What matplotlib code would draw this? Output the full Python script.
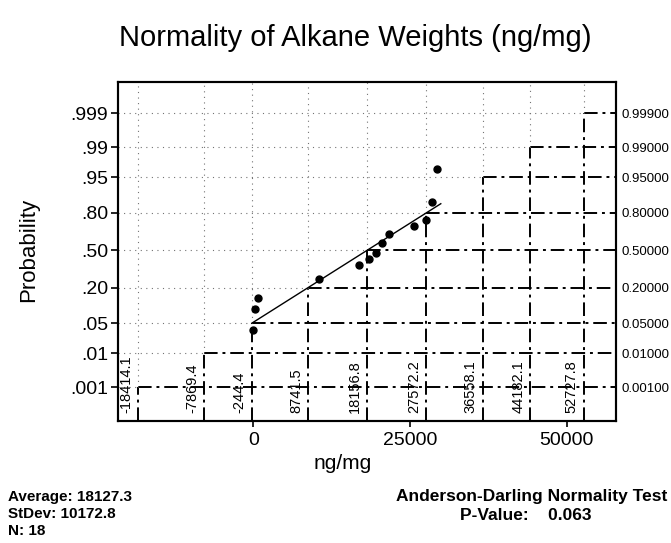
import matplotlib

matplotlib.use("Agg")
import matplotlib.pyplot as plt  # noqa: E402
import matplotlib.transforms as mtransforms  # noqa: E402
from statistics import NormalDist  # noqa: E402

plt.rcParams["font.family"] = ["Liberation Sans", "DejaVu Sans"]

# probability scale (left and right labels)
PROB_TICKS = [0.001, 0.01, 0.05, 0.20, 0.50, 0.80, 0.95, 0.99, 0.999]
LEFT_LABELS = [".001", ".01", ".05", ".20", ".50", ".80", ".95", ".99", ".999"]
RIGHT_LABELS = ["0.00100", "0.01000", "0.05000", "0.20000", "0.50000",
                "0.80000", "0.95000", "0.99000", "0.99900"]

# percentiles of the fitted normal at each probability level
PCT_VALUES = [-18414.1, -7869.4, -244.4, 8741.5, 18156.8, 27572.2, 36558.1, 44182.1, 52727.8]

# observed points (ng/mg, plotted probability)
OBS_X = [-50, 270, 700, 10530, 16860, 18500, 19520, 20530, 21600, 25580, 27500, 28450, 29350]
OBS_P = [0.0355, 0.0915, 0.143, 0.259, 0.370, 0.426, 0.479, 0.569, 0.647, 0.704, 0.756, 0.861, 0.966]

# fitted line
FIT_X = [-244.4, 29900]
FIT_P = [0.05, 0.853]

X_TICKS = [0, 25000, 50000]
X_TICK_LABELS = ["0", "25000", "50000"]

STATS_LEFT = ["Average: 18127.3", "StDev: 10172.8", "N: 18"]
TEST_NAME = "Anderson-Darling Normality Test"
P_VALUE = "P-Value:    0.063"

nd = NormalDist()


def z(p):
    return nd.inv_cdf(p)


XMIN, XMAX = -21580, 57800
ZMIN, ZMAX = -3.843, 3.80

fig = plt.figure(figsize=(6.71, 5.43), dpi=100)
ax = fig.add_axes([0.1759, 0.2252, 0.7417, 0.6243])
ax.set_xlim(XMIN, XMAX)
ax.set_ylim(ZMIN, ZMAX)

dashdot = (0, (7, 2.5, 1.5, 2.5))
dotted = (0, (1, 4))
lab_tr = mtransforms.blended_transform_factory(ax.transData, ax.transAxes) + \
    mtransforms.ScaledTranslation(-12 / 100, 0, fig.dpi_scale_trans)

for q, p in zip(PCT_VALUES, PROB_TICKS):
    zz = z(p)
    ax.plot([q, q], [ZMIN, zz], color="black", lw=1.4, ls=dashdot)
    ax.plot([q, XMAX], [zz, zz], color="black", lw=1.4, ls=dashdot)
    ax.plot([q, q], [zz, ZMAX], color="0.45", lw=0.8, ls=dotted)
    ax.plot([XMIN, q], [zz, zz], color="0.45", lw=0.8, ls=dotted)
    ax.text(q, 0.022, f"{q:.1f}", transform=lab_tr, rotation=90,
            ha="center", va="bottom", fontsize=10.5)

ax.plot(FIT_X, [z(p) for p in FIT_P], color="black", lw=1.0)
ax.plot(OBS_X, [z(p) for p in OBS_P], "o", color="black", ms=5)

ax.set_yticks([z(p) for p in PROB_TICKS])
ax.set_yticklabels(LEFT_LABELS, fontsize=14)
ax.tick_params(axis="y", length=5, width=1.2, pad=2)
ax.set_xticks(X_TICKS)
ax.set_xticklabels(X_TICK_LABELS, fontsize=14)
ax.tick_params(axis="x", length=4, width=1.2, pad=4)

ax2 = ax.twinx()
ax2.set_ylim(ZMIN, ZMAX)
ax2.set_yticks([z(p) for p in PROB_TICKS])
ax2.set_yticklabels(RIGHT_LABELS, fontsize=9.5)
ax2.tick_params(axis="y", length=0, pad=4)

for a in (ax, ax2):
    for s in a.spines.values():
        s.set_linewidth(1.5)

fig.text(0.529, 0.93, "Normality of Alkane Weights (ng/mg)", ha="center", va="center", fontsize=21)
fig.text(0.042, 0.54, "Probability", rotation=90, ha="center", va="center", fontsize=16)
fig.text(0.511, 0.147, "ng/mg", ha="center", va="center", fontsize=15)

for i, s in enumerate(STATS_LEFT):
    fig.text(0.012, 0.085 - i * 0.031, s, ha="left", va="center", fontsize=11, fontweight="bold")
fig.text(0.994, 0.085, TEST_NAME, ha="right", va="center", fontsize=12.5, fontweight="bold")
fig.text(0.783, 0.05, P_VALUE, ha="center", va="center", fontsize=12.5, fontweight="bold")

fig.savefig("out.png", dpi=100)
